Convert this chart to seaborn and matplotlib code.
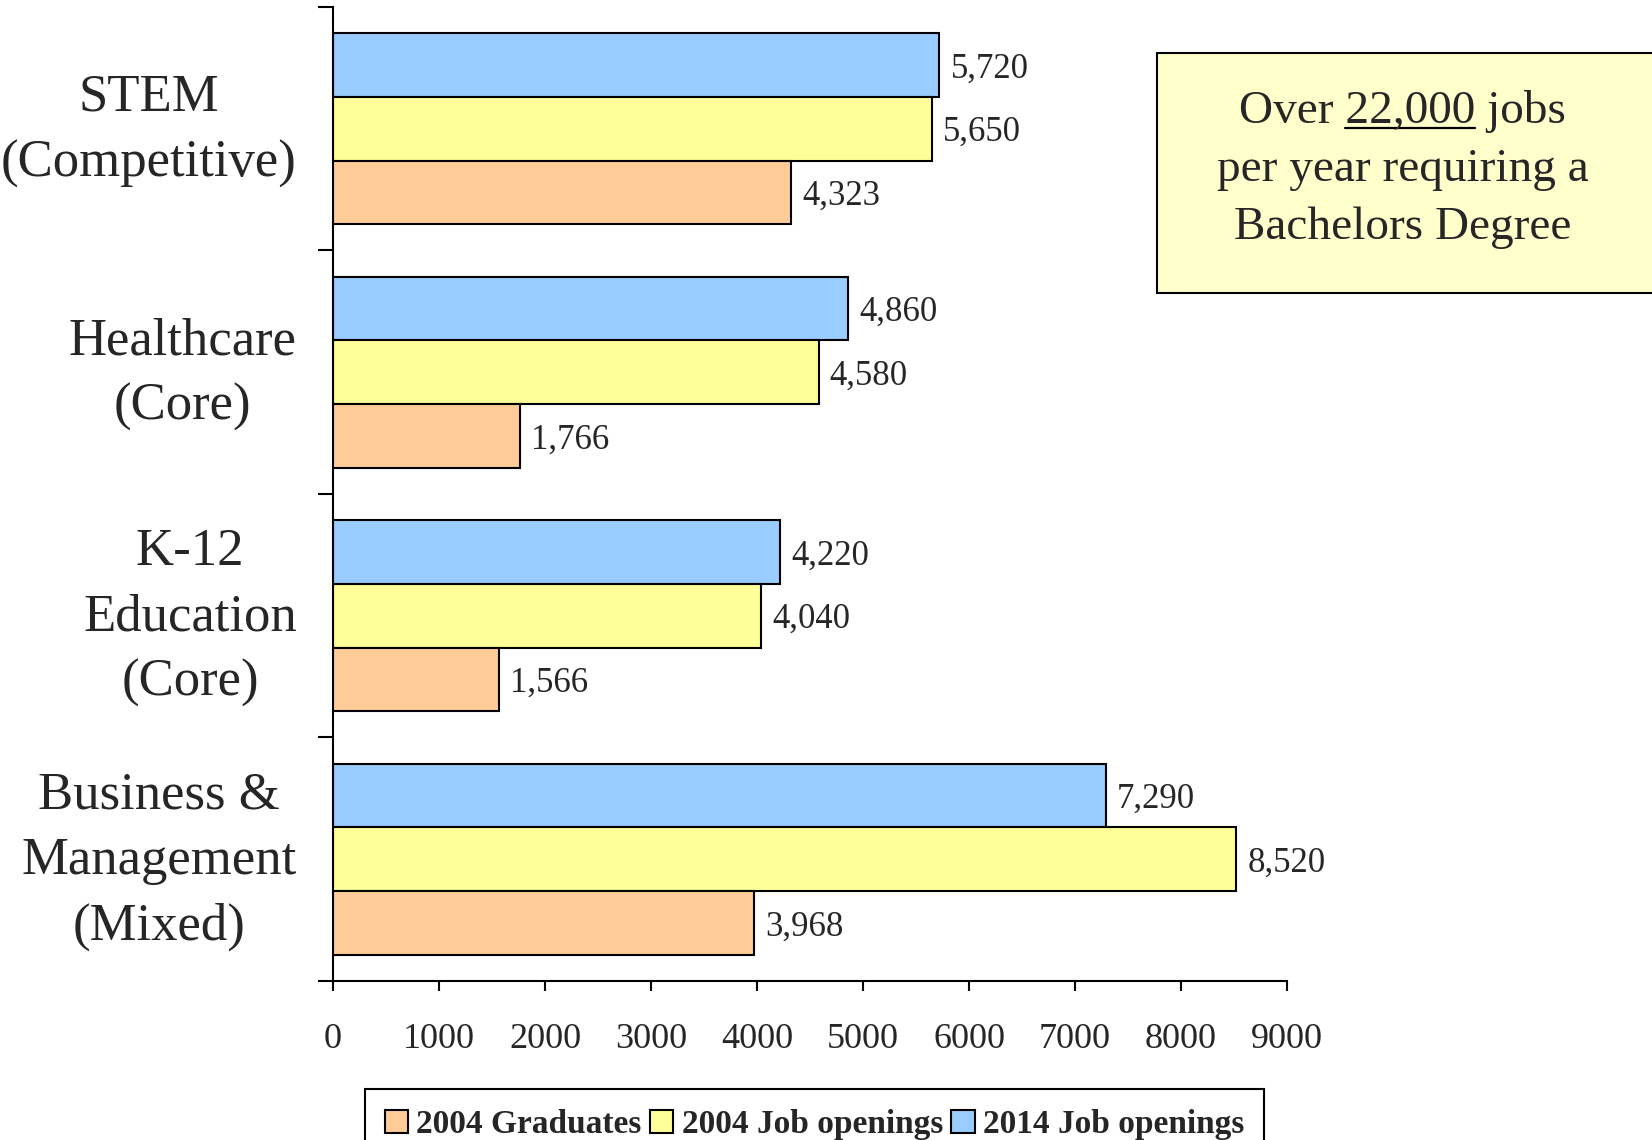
import matplotlib
matplotlib.use("Agg")
import matplotlib.pyplot as plt
import matplotlib.transforms as mtransforms
import seaborn as sns
import pandas as pd
from matplotlib.patches import Patch, Rectangle
from matplotlib.lines import Line2D

# ---------------- data ----------------
categories = ["STEM\n(Competitive)", "Healthcare\n(Core)",
              "K-12\nEducation\n(Core)", "Business &\nManagement\n(Mixed)"]
series = ["2004 Graduates", "2004 Job openings", "2014 Job openings"]
graduates_2004 = [4323, 1766, 1566, 3968]
jobs_2004 = [5650, 4580, 4040, 8520]
jobs_2014 = [5720, 4860, 4220, 7290]
x_ticks = [0, 1000, 2000, 3000, 4000, 5000, 6000, 7000, 8000, 9000]
colors = ["#FFCC99", "#FFFF99", "#99CCFF"]
box_lines = ["Over 22,000 jobs", "per year requiring a", "Bachelors Degree"]
underlined = "22,000"

rows = []
for vals, s in zip([graduates_2004, jobs_2004, jobs_2014], series):
    for c, v in zip(categories, vals):
        rows.append({"category": c, "series": s, "value": v})
df = pd.DataFrame(rows)

sns.set_theme(style="white")
plt.rcParams["font.family"] = ["Liberation Serif", "DejaVu Serif"]

fig = plt.figure(figsize=(16.52, 11.4), dpi=100)
ax = fig.add_axes([0.2016, 0.1395, 0.5775, 0.8544])

palette = dict(zip(series, colors))
sns.barplot(data=df, y="category", x="value", hue="series", order=categories,
            hue_order=series[::-1], palette=palette, orient="h", width=0.786,
            edgecolor="black", linewidth=1.5, saturation=1, legend=False, ax=ax)

for cont in ax.containers:
    labs = ax.bar_label(cont, fmt="{:,.0f}", padding=8, fontsize=25)
    for t in labs:
        t.set_verticalalignment("center_baseline")

ax.set_xlim(0, 9000)
ax.set_ylim(len(categories) - 0.5, -0.5)
ax.set_xticks(x_ticks)
ax.set_xticklabels([str(t) for t in x_ticks], fontsize=26)
ax.set_xlabel("")
ax.set_ylabel("")
ax.set_yticks(range(len(categories)))
ax.set_yticklabels([])
ax.set_yticks([i - 0.5 for i in range(len(categories) + 1)], minor=True)
ax.tick_params(axis="y", which="major", length=0, labelleft=False)
ax.tick_params(axis="y", which="minor", length=11, width=1.5, color="black",
               direction="out", left=True)
ax.tick_params(axis="x", which="major", length=7, width=1.5, color="black",
               direction="out", bottom=True, pad=23)

# category labels placed on the categorical y scale
lab_trans = ax.get_yaxis_transform() + mtransforms.ScaledTranslation(
    -26 / 72, -1.5 / 72, fig.dpi_scale_trans)
for i, cat in enumerate(categories):
    ax.text(0, i, cat, transform=lab_trans, ha="right", va="center",
            multialignment="center", linespacing=1.47, fontsize=38)

for side in ["top", "right"]:
    ax.spines[side].set_visible(False)
for side in ["left", "bottom"]:
    ax.spines[side].set_color("black")
    ax.spines[side].set_linewidth(1.5)
ax.grid(False)

# legend
handles = [Patch(facecolor=c, edgecolor="black", linewidth=1.5) for c in colors]
leg = fig.legend(handles, series, loc="upper center", bbox_to_anchor=(0.493, 0.0447),
                 ncol=3, frameon=True, fancybox=False, framealpha=1,
                 edgecolor="black", prop={"family": "Liberation Serif", "weight": "bold", "size": 24},
                 handlelength=0.7, handleheight=0.7, handletextpad=0.25,
                 columnspacing=0.25, borderpad=0.6, borderaxespad=0)
leg.get_frame().set_linewidth(1.5)

# text box
fig.patches.append(Rectangle((0.7004, 0.7430), 0.35, 0.2105, transform=fig.transFigure,
                             facecolor="#FFFFCC", edgecolor="black", linewidth=1.5))
cx = 0.849
fs_box = 34
ys = [1 - 123 / 1140, 1 - 181 / 1140, 1 - 239 / 1140]
texts = []
for line, y in zip(box_lines, ys):
    texts.append(fig.text(cx, y, line, ha="center", va="baseline", fontsize=fs_box))

fig.canvas.draw()
r = fig.canvas.get_renderer()
bb = texts[0].get_window_extent(r)
prefix = box_lines[0][: box_lines[0].index(underlined) + len(underlined)]
tmp1 = fig.text(0, 0, prefix, fontsize=fs_box)
tmp2 = fig.text(0, 0, underlined, fontsize=fs_box)
w1 = tmp1.get_window_extent(r).width
w2 = tmp2.get_window_extent(r).width
tmp1.remove()
tmp2.remove()
W, H = fig.bbox.width, fig.bbox.height
x_end = bb.x0 + w1
x_start = x_end - w2
y_line = ys[0] * H - 5
fig.lines.append(Line2D([x_start / W, x_end / W], [y_line / H, y_line / H],
                        transform=fig.transFigure, color="black", linewidth=1.6))

fig.savefig("out.png", dpi=100)
